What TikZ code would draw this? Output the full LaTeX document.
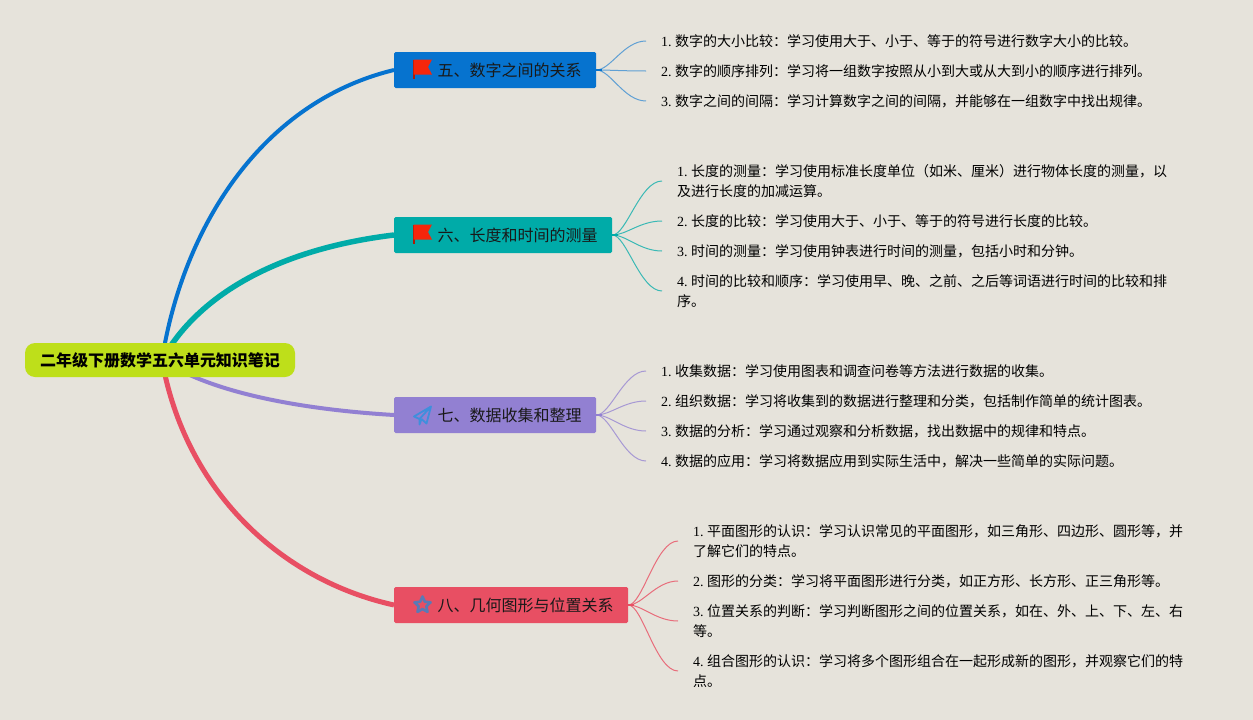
\documentclass[tikz,border=0pt]{standalone}
\usepackage{fontspec}
\setmainfont{Liberation Serif}
\newfontfamily\cjk{Noto Sans CJK SC}
\usetikzlibrary{backgrounds,shapes.geometric}
\definecolor{papercol}{HTML}{E6E3DB}
\definecolor{rootcol}{HTML}{BEDF1A}
\definecolor{bluecol}{HTML}{0673CF}
\definecolor{tealcol}{HTML}{00ABA8}
\definecolor{purplecol}{HTML}{9280D2}
\definecolor{redcol}{HTML}{E84F63}
\definecolor{flagcol}{HTML}{F5260B}
\definecolor{planecol}{HTML}{3F8FDC}
\definecolor{starcol}{HTML}{5B79B5}
\tikzset{
  rootbox/.style={fill=rootcol,rounded corners=10pt,minimum height=34pt,inner xsep=15pt,inner ysep=0pt,font=\fontsize{16}{20}\selectfont\cjk\bfseries},
  branchbox/.style={anchor=west,rounded corners=1.5pt,minimum height=36pt,inner xsep=14.5pt,inner ysep=0pt,font=\fontsize{16}{20}\selectfont\cjk,text=black!90},
  leaf/.style={anchor=west,align=left,inner xsep=15pt,inner ysep=0pt,font=\fontsize{14}{20}\selectfont\frenchspacing},
  leafline/.style={line width=1pt},
  flagicon/.pic={
    \fill[flagcol!70!black] (-9.5,-9.5) rectangle (-8,10);
    \fill[flagcol] (-9,-9.5) -- (9.5,-9.5) -- (5.5,-2) -- (9.5,5.5) -- (-9,5.5) -- cycle;
  },
  planeicon/.pic={
    \draw[planecol,line width=1.8pt,line join=round] (8.5,-9) -- (-8.5,1) -- (-3,3.5) -- (8.5,-9) -- (4,8) -- (-1,3.5) (-3,3.5) -- (-3,9) -- (-1,3.5);
  },
}
\begin{document}
\begin{tikzpicture}[x=1pt,y=-1pt]
\useasboundingbox (0,0) rectangle (1253,720);
\node[rootbox] (root) at (160,360) {二年级下册数学五六单元知识笔记};
\coordinate (hub) at (162,360);

\node[branchbox,fill=bluecol] (five) at (394,70) {\hspace*{29pt}五、数字之间的关系};
\node[branchbox,fill=tealcol] (six) at (394,235) {\hspace*{29pt}六、长度和时间的测量};
\node[branchbox,fill=purplecol] (seven) at (394,415) {\hspace*{29pt}七、数据收集和整理};
\node[branchbox,fill=redcol] (eight) at (394,605) {\hspace*{29pt}八、几何图形与位置关系};

\pic at (422.5,69) {flagicon};
\pic at (422.5,234) {flagicon};
\pic at (422.5,415.5) {planeicon};
\node[star,star points=5,star point ratio=2.1,draw=starcol,line width=2.6pt,line join=round,minimum size=17pt,inner sep=0pt] (staricon) at (422.5,605) {};

\node[leaf] (fivea) at (646,41) {1. \cjk 数字的大小比较：学习使用大于、小于、等于的符号进行数字大小的比较。};
\node[leaf] (fiveb) at (646,71) {2. \cjk 数字的顺序排列：学习将一组数字按照从小到大或从大到小的顺序进行排列。};
\node[leaf] (fivec) at (646,101) {3. \cjk 数字之间的间隔：学习计算数字之间的间隔，并能够在一组数字中找出规律。};

\node[leaf] (sixa) at (662,181) {1. \cjk 长度的测量：学习使用标准长度单位（如米、厘米）进行物体长度的测量，以\\\cjk 及进行长度的加减运算。};
\node[leaf] (sixb) at (662,221) {2. \cjk 长度的比较：学习使用大于、小于、等于的符号进行长度的比较。};
\node[leaf] (sixc) at (662,251) {3. \cjk 时间的测量：学习使用钟表进行时间的测量，包括小时和分钟。};
\node[leaf] (sixd) at (662,291) {4. \cjk 时间的比较和顺序：学习使用早、晚、之前、之后等词语进行时间的比较和排\\\cjk 序。};

\node[leaf] (sevena) at (646,371) {1. \cjk 收集数据：学习使用图表和调查问卷等方法进行数据的收集。};
\node[leaf] (sevenb) at (646,401) {2. \cjk 组织数据：学习将收集到的数据进行整理和分类，包括制作简单的统计图表。};
\node[leaf] (sevenc) at (646,431) {3. \cjk 数据的分析：学习通过观察和分析数据，找出数据中的规律和特点。};
\node[leaf] (sevend) at (646,461) {4. \cjk 数据的应用：学习将数据应用到实际生活中，解决一些简单的实际问题。};

\node[leaf] (eighta) at (678,541) {1. \cjk 平面图形的认识：学习认识常见的平面图形，如三角形、四边形、圆形等，并\\\cjk 了解它们的特点。};
\node[leaf] (eightb) at (678,581) {2. \cjk 图形的分类：学习将平面图形进行分类，如正方形、长方形、正三角形等。};
\node[leaf] (eightc) at (678,621) {3. \cjk 位置关系的判断：学习判断图形之间的位置关系，如在、外、上、下、左、右\\\cjk 等。};
\node[leaf] (eightd) at (678,671) {4. \cjk 组合图形的认识：学习将多个图形组合在一起形成新的图形，并观察它们的特\\\cjk 点。};

\begin{pgfonlayer}{background}
\fill[papercol] (0,0) rectangle (1253,720);
\draw[bluecol,line width=4pt] (hub) .. controls (182,232) and (258,103) .. (five.west);
\draw[tealcol,line width=5.5pt] (hub) .. controls (195,300) and (270,250) .. (six.west);
\draw[purplecol,line width=4pt] (hub) .. controls (215,395) and (310,410) .. (seven.west);
\draw[redcol,line width=5pt] (hub) .. controls (185,490) and (280,580) .. (eight.west);
\foreach \leafname in {fivea,fiveb,fivec}
  \draw[bluecol!60!papercol,leafline] (five.east) .. controls +(14,0) and +(-22,0) .. (\leafname.west);
\foreach \leafname in {sixa,sixb,sixc,sixd}
  \draw[tealcol!75!papercol,leafline] (six.east) .. controls +(14,0) and +(-22,0) .. (\leafname.west);
\foreach \leafname in {sevena,sevenb,sevenc,sevend}
  \draw[purplecol!75!papercol,leafline] (seven.east) .. controls +(14,0) and +(-22,0) .. (\leafname.west);
\foreach \leafname in {eighta,eightb,eightc,eightd}
  \draw[redcol!80!papercol,leafline] (eight.east) .. controls +(14,0) and +(-22,0) .. (\leafname.west);
\draw[bluecol,line width=2pt] (five.east) -- ++(6,0);
\draw[tealcol,line width=2pt] (six.east) -- ++(6,0);
\draw[purplecol,line width=2pt] (seven.east) -- ++(6,0);
\draw[redcol,line width=2pt] (eight.east) -- ++(6,0);
\end{pgfonlayer}
\end{tikzpicture}
\end{document}
